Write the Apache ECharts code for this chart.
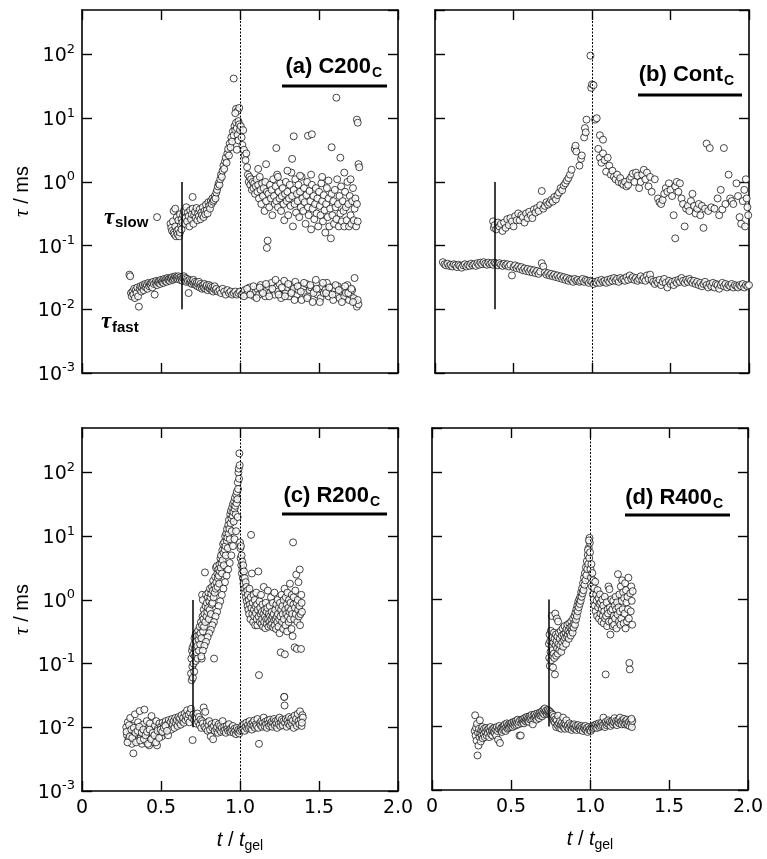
<!DOCTYPE html>
<html><head><meta charset="utf-8">
<script src="https://cdn.jsdelivr.net/npm/echarts@6/dist/echarts.min.js"></script>
<style>html,body{margin:0;padding:0;background:#fff}#c{width:767px;height:859px}</style>
</head><body><div id="c"></div>
<script>
// ---------- DATA (t / t_gel, tau in ms) ----------
const aFast = [[0.30,.035],[0.305,.033],[0.31,.018],[0.315,.016],[0.32,.019],[0.325,.017],[0.33,.021],[0.335,.015],[0.34,.02],[0.345,.018],[0.35,.022],[0.355,.016],[0.36,.011],[0.365,.021],[0.37,.023],[0.375,.019],[0.38,.022],[0.385,.024],[0.39,.02],[0.395,.023],[0.40,.025],[0.405,.022],[0.41,.024],[0.415,.021],[0.42,.026],[0.425,.023],[0.43,.025],[0.435,.024],[0.44,.026],[0.445,.022],[0.45,.027],[0.455,.025],[0.46,.017],[0.465,.026],[0.47,.028],[0.475,.024],[0.48,.027],[0.485,.026],[0.49,.028],[0.495,.025],[0.50,.029],[0.505,.027],[0.51,.028],[0.515,.026],[0.52,.03],[0.525,.028],[0.53,.029],[0.535,.027],[0.54,.031],[0.545,.029],[0.55,.03],[0.555,.028],[0.56,.031],[0.565,.03],[0.57,.032],[0.575,.029],[0.58,.031],[0.585,.03],[0.59,.033],[0.595,.031],[0.60,.032],[0.605,.03],[0.61,.033],[0.615,.031],[0.62,.029],[0.625,.032],[0.63,.03],[0.635,.028],[0.64,.031],[0.645,.033],[0.65,.029],[0.655,.031],[0.66,.027],[0.665,.03],[0.67,.028],[0.675,.018],[0.68,.029],[0.685,.026],[0.69,.028],[0.695,.025],[0.70,.027],[0.705,.029],[0.71,.025],[0.715,.027],[0.72,.024],[0.725,.026],[0.73,.023],[0.735,.025],[0.74,.027],[0.745,.022],[0.75,.025],[0.755,.023],[0.76,.021],[0.765,.024],[0.77,.022],[0.775,.025],[0.78,.021],[0.785,.023],[0.79,.024],[0.795,.02],[0.80,.022],[0.805,.024],[0.81,.021],[0.815,.023],[0.82,.02],[0.825,.022],[0.83,.019],[0.835,.021],[0.84,.023],[0.845,.02],[0.85,.021],[0.86,.019],[0.87,.02],[0.88,.018],[0.89,.021],[0.90,.019],[0.91,.017],[0.92,.02],[0.93,.018],[0.94,.019],[0.95,.017],[0.96,.018],[0.97,.019],[0.98,.017],[0.99,.018],[1.00,.019],[1.01,.017],[1.02,.018],[1.03,.02],[1.04,.017],[1.05,.019],[1.06,.022],[1.07,.018],[1.08,.02],[1.09,.016],[1.10,.019],[1.11,.021],[1.12,.017],[1.13,.024],[1.14,.019],[1.15,.021],[1.16,.016],[1.17,.02],[1.18,.023],[1.19,.018],[1.20,.026],[1.21,.02],[1.22,.017],[1.23,.022],[1.24,.019],[1.25,.025],[1.26,.015],[1.27,.021],[1.28,.028],[1.29,.018],[1.30,.022],[1.31,.016],[1.32,.024],[1.33,.019],[1.34,.021],[1.35,.027],[1.36,.017],[1.37,.02],[1.38,.023],[1.39,.014],[1.40,.021],[1.41,.018],[1.42,.025],[1.43,.016],[1.44,.02],[1.45,.022],[1.46,.013],[1.47,.019],[1.48,.029],[1.49,.017],[1.50,.021],[1.51,.015],[1.52,.023],[1.53,.018],[1.54,.02],[1.55,.026],[1.56,.016],[1.57,.019],[1.58,.022],[1.59,.014],[1.60,.02],[1.61,.017],[1.62,.023],[1.63,.015],[1.64,.019],[1.65,.021],[1.66,.016],[1.67,.018],[1.68,.024],[1.69,.014],[1.70,.017],[1.71,.02],[1.72,.015],[1.73,.013],[1.74,.011],[1.75,.012],[1.745,.014],[1.725,.031],[1.025,.016],[1.045,.021],[1.065,.017],[1.085,.023],[1.105,.015],[1.125,.022],[1.145,.018],[1.165,.025],[1.185,.016],[1.205,.021],[1.225,.029],[1.245,.017],[1.265,.022],[1.285,.016],[1.305,.025],[1.325,.018],[1.345,.014],[1.365,.023],[1.385,.019],[1.405,.026],[1.425,.015],[1.445,.024],[1.465,.018],[1.485,.021],[1.505,.013],[1.525,.026],[1.545,.018],[1.565,.022],[1.585,.017],[1.605,.024],[1.625,.02],[1.645,.013],[1.665,.023],[1.685,.018],[1.705,.021],[1.715,.013]];

const aSlow = [[0.475,.28],[0.56,.22],[0.565,.19],[0.57,.17],[0.575,.24],[0.58,.16],[0.585,.15],[0.59,.2],[0.595,.14],[0.60,.17],[0.605,.15],[0.61,.18],[0.615,.14],[0.62,.16],[0.625,.21],[0.63,.18],[0.58,.35],[0.59,.38],[0.60,.28],[0.61,.25],[0.62,.31],[0.63,.26],[0.635,.23],[0.64,.3],[0.645,.35],[0.65,.22],[0.655,.27],[0.66,.4],[0.665,.24],[0.67,.33],[0.675,.29],[0.68,.2],[0.685,.36],[0.69,.26],[0.695,.31],[0.70,.38],[0.70,.58],[0.705,.22],[0.71,.3],[0.715,.34],[0.72,.27],[0.725,.39],[0.73,.25],[0.735,.32],[0.74,.29],[0.745,.37],[0.75,.26],[0.755,.33],[0.76,.3],[0.765,.4],[0.77,.28],[0.775,.35],[0.78,.31],[0.785,.44],[0.79,.36],[0.795,.32],[0.80,.48],[0.805,.42],[0.81,.38],[0.815,.5],[0.82,.45],[0.825,.55],[0.83,.49],[0.835,.52],[0.84,.6],[0.845,.55],[0.85,.68],[0.855,.75],[0.86,.85],[0.865,.95],[0.87,.9],[0.875,1.1],[0.88,1.3],[0.885,1.2],[0.89,1.5],[0.895,1.8],[0.90,1.6],[0.905,2.1],[0.91,2.4],[0.915,2.0],[0.92,2.8],[0.925,3.3],[0.93,2.6],[0.935,4.0],[0.94,3.5],[0.945,5.0],[0.95,4.3],[0.955,6.2],[0.96,5.4],[0.965,7.5],[0.97,6.5],[0.975,8.5],[0.98,7.0],[0.985,5.5],[0.99,9.0],[0.995,8.0],[1.0,6.5],[0.96,42],[0.975,14],[0.985,13],[0.995,14.5],[0.97,12],[0.99,4.5],[0.98,3.2],[1.005,7.5],[1.01,5.0],[1.015,3.8],[1.02,6.5],[1.025,3.2],[1.03,2.6],[1.035,2.2],[1.04,2.8],[1.045,1.7],[1.05,1.3],[1.055,1.0],[1.06,1.2],[1.065,0.9],[1.07,1.1],[1.075,0.75],[1.08,1.0],[1.085,0.8],[1.09,0.95],[1.095,0.65],[1.10,0.85],[1.105,1.1],[1.11,0.7],[1.115,0.9],[1.12,0.55],[1.125,1.2],[1.13,0.75],[1.135,0.45],[1.14,0.95],[1.145,0.6],[1.15,0.8],[1.155,0.35],[1.16,1.0],[1.165,0.5],[1.17,0.7],[1.175,0.12],[1.17,0.092],[1.18,0.65],[1.185,0.4],[1.19,0.9],[1.195,0.55],[1.20,0.75],[1.205,0.3],[1.21,1.1],[1.215,0.6],[1.22,0.45],[1.225,0.85],[1.23,0.5],[1.235,1.3],[1.24,0.4],[1.245,0.7],[1.25,0.55],[1.255,0.95],[1.26,0.35],[1.265,0.6],[1.27,0.8],[1.275,0.45],[1.28,0.25],[1.285,0.65],[1.29,1.0],[1.295,0.5],[1.30,0.7],[1.305,0.3],[1.31,0.55],[1.315,0.9],[1.32,0.42],[1.325,1.4],[1.33,0.6],[1.335,0.2],[1.34,0.75],[1.345,0.45],[1.35,1.1],[1.355,0.33],[1.36,0.65],[1.365,0.5],[1.37,0.9],[1.375,0.28],[1.38,0.7],[1.385,0.4],[1.39,1.2],[1.395,0.55],[1.40,0.35],[1.405,0.8],[1.41,0.48],[1.415,0.22],[1.42,0.62],[1.425,1.0],[1.43,0.4],[1.435,0.3],[1.44,0.72],[1.445,0.5],[1.45,0.18],[1.455,0.9],[1.46,0.38],[1.465,0.6],[1.47,0.26],[1.475,0.45],[1.48,0.8],[1.485,0.32],[1.49,0.55],[1.495,0.2],[1.50,0.7],[1.505,0.42],[1.51,0.3],[1.515,0.95],[1.52,0.5],[1.525,0.24],[1.53,0.62],[1.535,0.36],[1.54,0.16],[1.545,0.45],[1.55,0.8],[1.555,0.28],[1.56,0.55],[1.565,0.2],[1.57,0.38],[1.575,0.13],[1.58,0.65],[1.585,0.3],[1.59,0.5],[1.595,0.22],[1.60,0.75],[1.605,0.4],[1.61,0.26],[1.615,1.1],[1.62,0.45],[1.625,0.2],[1.63,0.6],[1.635,0.32],[1.64,0.85],[1.645,0.24],[1.65,0.5],[1.655,0.35],[1.66,0.2],[1.665,0.7],[1.67,0.4],[1.675,0.25],[1.68,1.0],[1.685,0.45],[1.69,0.2],[1.695,0.6],[1.70,0.3],[1.705,0.22],[1.71,0.5],[1.715,0.8],[1.72,0.25],[1.725,0.38],[1.73,0.55],[1.735,0.2],[1.74,0.45],[1.745,0.24],[1.61,21],[1.74,9.5],[1.745,8.5],[1.34,5.2],[1.43,5.3],[1.455,5.6],[1.23,3.4],[1.58,3.5],[1.635,2.4],[1.33,2.3],[1.115,1.6],[1.165,1.9],[1.75,1.9],[1.755,1.7],[1.30,1.5],[1.45,1.3],[1.52,1.2],[1.56,1.05],[1.66,1.4],[1.38,1.25],[1.24,1.2],[1.70,1.1]];

const bFast = [[0.05,.055],[0.06,.051],[0.07,.049],[0.08,.052],[0.09,.048],[0.10,.05],[0.11,.047],[0.12,.051],[0.13,.049],[0.14,.046],[0.15,.05],[0.16,.048],[0.17,.045],[0.18,.049],[0.19,.051],[0.20,.047],[0.21,.05],[0.22,.048],[0.23,.052],[0.24,.049],[0.25,.051],[0.26,.048],[0.27,.053],[0.28,.05],[0.29,.054],[0.30,.051],[0.31,.055],[0.32,.052],[0.33,.05],[0.34,.054],[0.35,.051],[0.36,.053],[0.37,.05],[0.38,.054],[0.39,.052],[0.40,.049],[0.41,.053],[0.42,.05],[0.43,.048],[0.44,.052],[0.45,.049],[0.46,.051],[0.47,.047],[0.48,.05],[0.49,.034],[0.50,.046],[0.51,.049],[0.52,.044],[0.53,.047],[0.54,.043],[0.55,.046],[0.56,.041],[0.57,.044],[0.58,.04],[0.59,.043],[0.60,.039],[0.61,.042],[0.62,.038],[0.63,.041],[0.64,.037],[0.65,.04],[0.66,.036],[0.67,.039],[0.68,.053],[0.69,.047],[0.70,.038],[0.71,.035],[0.72,.037],[0.73,.034],[0.74,.036],[0.75,.033],[0.76,.035],[0.77,.032],[0.78,.034],[0.79,.031],[0.80,.033],[0.81,.03],[0.82,.032],[0.83,.029],[0.84,.031],[0.85,.028],[0.86,.03],[0.87,.029],[0.88,.027],[0.89,.03],[0.90,.028],[0.91,.029],[0.92,.027],[0.93,.028],[0.94,.03],[0.95,.027],[0.96,.029],[0.97,.028],[0.98,.026],[0.99,.028],[1.00,.027],[1.01,.025],[1.02,.027],[1.03,.026],[1.04,.028],[1.05,.026],[1.06,.029],[1.07,.027],[1.08,.028],[1.09,.026],[1.10,.029],[1.11,.027],[1.12,.03],[1.13,.028],[1.14,.031],[1.15,.028],[1.16,.03],[1.17,.027],[1.18,.031],[1.19,.029],[1.20,.03],[1.21,.028],[1.22,.032],[1.23,.029],[1.24,.034],[1.25,.03],[1.26,.032],[1.27,.029],[1.28,.031],[1.29,.028],[1.30,.03],[1.31,.033],[1.32,.029],[1.33,.031],[1.34,.028],[1.35,.034],[1.36,.03],[1.37,.035],[1.38,.029],[1.39,.027],[1.40,.025],[1.41,.028],[1.42,.026],[1.43,.029],[1.44,.024],[1.45,.027],[1.46,.03],[1.47,.026],[1.48,.022],[1.49,.028],[1.50,.025],[1.51,.027],[1.52,.024],[1.53,.028],[1.54,.026],[1.55,.029],[1.56,.027],[1.57,.031],[1.58,.028],[1.59,.026],[1.60,.029],[1.61,.027],[1.62,.03],[1.63,.028],[1.64,.026],[1.65,.028],[1.66,.025],[1.67,.027],[1.68,.024],[1.69,.026],[1.70,.023],[1.71,.025],[1.72,.027],[1.73,.024],[1.74,.022],[1.75,.025],[1.76,.023],[1.77,.026],[1.78,.022],[1.79,.025],[1.80,.024],[1.81,.021],[1.82,.024],[1.83,.026],[1.84,.023],[1.85,.025],[1.86,.022],[1.87,.024],[1.88,.023],[1.89,.025],[1.90,.022],[1.91,.024],[1.92,.023],[1.93,.022],[1.94,.024],[1.95,.023],[1.96,.025],[1.97,.022],[1.98,.024],[1.99,.023],[2.00,.024]];

const bSlow = [[0.37,.24],[0.375,.19],[0.38,.21],[0.39,.18],[0.40,.23],[0.41,.2],[0.42,.22],[0.43,.17],[0.44,.23],[0.45,.19],[0.46,.26],[0.47,.21],[0.48,.27],[0.49,.24],[0.50,.2],[0.51,.29],[0.52,.25],[0.53,.32],[0.54,.25],[0.55,.3],[0.56,.28],[0.57,.23],[0.58,.32],[0.59,.27],[0.60,.34],[0.61,.3],[0.62,.27],[0.63,.37],[0.64,.33],[0.65,.39],[0.68,.72],[0.66,.35],[0.67,.43],[0.69,.38],[0.70,.42],[0.71,.48],[0.72,.44],[0.73,.47],[0.74,.52],[0.75,.49],[0.76,.58],[0.77,.53],[0.78,.62],[0.79,.68],[0.80,.8],[0.81,.74],[0.82,.88],[0.83,.95],[0.84,1.05],[0.85,1.15],[0.86,1.3],[0.87,1.55],[0.89,3.3],[0.895,3.7],[0.90,3.0],[0.92,1.8],[0.93,2.3],[0.935,2.6],[0.95,5.0],[0.955,7.0],[0.96,6.0],[0.965,9.5],[0.99,96],[0.995,30],[1.0,34],[1.01,33],[1.02,9.5],[1.03,10],[1.05,5.4],[1.07,4.6],[1.04,3.3],[1.05,2.4],[1.06,2.0],[1.07,2.8],[1.08,2.2],[1.09,1.45],[1.10,2.4],[1.11,1.8],[1.12,1.3],[1.13,1.5],[1.14,1.2],[1.15,1.1],[1.16,1.3],[1.17,1.0],[1.18,1.15],[1.19,0.95],[1.20,0.9],[1.21,1.0],[1.22,0.85],[1.23,0.9],[1.24,1.1],[1.25,1.2],[1.26,1.35],[1.27,1.0],[1.28,1.4],[1.29,1.25],[1.30,0.8],[1.31,1.0],[1.32,1.3],[1.33,1.55],[1.34,1.1],[1.35,1.4],[1.36,0.85],[1.37,1.2],[1.38,0.7],[1.40,1.1],[1.42,0.55],[1.43,0.48],[1.44,0.45],[1.45,0.52],[1.46,0.65],[1.47,0.8],[1.48,0.7],[1.49,0.95],[1.50,0.75],[1.51,0.6],[1.52,0.3],[1.53,0.85],[1.54,1.0],[1.53,0.13],[1.55,0.7],[1.56,0.95],[1.57,0.55],[1.58,0.45],[1.59,0.2],[1.60,0.38],[1.61,0.42],[1.62,0.35],[1.63,0.5],[1.64,0.65],[1.65,0.42],[1.66,0.32],[1.67,0.38],[1.68,0.45],[1.69,0.3],[1.70,0.42],[1.71,0.19],[1.72,0.38],[1.73,4.0],[1.75,3.4],[1.74,0.35],[1.76,0.4],[1.78,0.38],[1.80,0.55],[1.81,0.3],[1.82,0.75],[1.83,0.37],[1.84,3.4],[1.85,0.45],[1.87,1.3],[1.88,0.55],[1.89,0.5],[1.90,0.45],[1.92,0.95],[1.93,0.6],[1.94,0.28],[1.95,0.22],[1.96,0.5],[1.97,0.75],[1.98,1.1],[1.99,0.4],[1.995,0.3],[1.985,0.55],[1.975,0.2]];

const cFast = [[0.280,.010],[0.285,.0075],[0.290,.012],[0.295,.0065],[0.300,.009],[0.305,.014],[0.310,.0078],[0.315,.0055],[0.320,.0105],[0.325,.0039],[0.330,.0085],[0.335,.016],[0.340,.007],[0.345,.0095],[0.350,.0062],[0.355,.012],[0.360,.0082],[0.365,.018],[0.370,.0068],[0.375,.0098],[0.380,.0055],[0.385,.011],[0.390,.0078],[0.395,.019],[0.400,.0088],[0.405,.006],[0.410,.0125],[0.415,.0072],[0.420,.0095],[0.425,.0052],[0.430,.0115],[0.435,.008],[0.440,.015],[0.445,.0068],[0.450,.0092],[0.455,.0058],[0.460,.0105],[0.465,.0082],[0.470,.0125],[0.475,.0052],[0.480,.0095],[0.485,.0078],[0.490,.0115],[0.495,.0088],[0.500,.0102],[0.505,.0072],[0.510,.0118],[0.515,.0092],[0.520,.0108],[0.525,.0082],[0.530,.0125],[0.535,.0098],[0.540,.0112],[0.545,.0075],[0.550,.013],[0.555,.0105],[0.560,.012],[0.565,.0092],[0.570,.0135],[0.575,.011],[0.580,.0125],[0.585,.0098],[0.590,.014],[0.595,.0115],[0.600,.013],[0.605,.0105],[0.610,.0145],[0.615,.012],[0.620,.0138],[0.625,.011],[0.630,.0155],[0.635,.0125],[0.640,.014],[0.645,.0118],[0.650,.0165],[0.655,.013],[0.660,.015],[0.665,.0185],[0.670,.0135],[0.675,.0158],[0.680,.012],[0.685,.017],[0.690,.0195],[0.695,.0142],[0.700,.0063],[0.705,.016],[0.710,.013],[0.715,.0148],[0.720,.0115],[0.725,.0138],[0.730,.0165],[0.735,.0122],[0.740,.0145],[0.745,.0108],[0.750,.0132],[0.755,.0098],[0.760,.0125],[0.765,.0115],[0.770,.0205],[0.775,.0102],[0.780,.0175],[0.785,.0095],[0.790,.0118],[0.795,.0088],[0.800,.0108],[0.805,.0125],[0.810,.0092],[0.815,.0072],[0.820,.0112],[0.825,.0098],[0.830,.0065],[0.835,.0105],[0.840,.0088],[0.845,.0118],[0.850,.0095],[0.855,.0102],[0.860,.0082],[0.865,.0112],[0.870,.0092],[0.875,.0105],[0.880,.0085],[0.885,.0098],[0.890,.0125],[0.895,.0088],[0.900,.0102],[0.905,.0092],[0.910,.0082],[0.915,.0105],[0.920,.0095],[0.925,.0088],[0.930,.0112],[0.935,.0092],[0.940,.0085],[0.945,.0098],[0.950,.009],[0.955,.0105],[0.960,.0082],[0.965,.0095],[0.970,.0088],[0.975,.0078],[0.980,.0098],[0.985,.0085],[0.990,.0092],[0.995,.008],[1.000,.0088],[1.005,.0098],[1.010,.0092],[1.015,.0108],[1.020,.0095],[1.025,.0112],[1.030,.0088],[1.035,.0102],[1.040,.0118],[1.045,.0095],[1.050,.0108],[1.055,.0098],[1.060,.0125],[1.065,.0102],[1.070,.0112],[1.075,.0092],[1.080,.0118],[1.085,.0105],[1.090,.0128],[1.095,.0098],[1.100,.0112],[1.105,.0105],[1.110,.0135],[1.115,.0098],[1.120,.0055],[1.125,.0115],[1.130,.0108],[1.135,.0125],[1.140,.0102],[1.145,.0118],[1.150,.0142],[1.155,.0105],[1.160,.0122],[1.165,.0112],[1.170,.0098],[1.175,.0128],[1.180,.0115],[1.185,.0105],[1.190,.0132],[1.195,.0112],[1.200,.0122],[1.205,.0102],[1.210,.0118],[1.215,.0135],[1.220,.0108],[1.225,.0125],[1.230,.0115],[1.235,.0098],[1.240,.0128],[1.245,.0112],[1.250,.0142],[1.255,.0105],[1.260,.012],[1.265,.0132],[1.270,.0108],[1.275,.0125],[1.280,.030],[1.282,.022],[1.285,.0118],[1.290,.0135],[1.295,.0102],[1.300,.0128],[1.305,.0115],[1.310,.0145],[1.315,.0108],[1.320,.0122],[1.325,.0138],[1.330,.0112],[1.335,.0128],[1.340,.0098],[1.345,.0152],[1.350,.0118],[1.355,.0135],[1.360,.0105],[1.365,.0162],[1.370,.0125],[1.375,.0112],[1.380,.0178],[1.385,.0132],[1.390,.0105],[1.395,.0155],[1.398,.0142],[1.392,.0118],[0.282,.0085],[0.288,.0058],[0.298,.0108],[0.302,.0072],[0.312,.0092],[0.318,.0068],[0.328,.0098],[0.338,.0082],[0.342,.0058],[0.352,.0088],[0.362,.0102],[0.368,.0062],[0.378,.0082],[0.388,.0092],[0.392,.0065],[0.402,.0075],[0.412,.0085],[0.418,.0055],[0.428,.0092],[0.438,.0065],[0.448,.0082],[0.458,.0075],[0.468,.0058],[0.478,.0088],[0.488,.0068],[0.498,.0092],[0.508,.0085],[0.518,.0098],[0.528,.0105],[0.538,.0088]];

const cSlow = [[0.690,.07],[0.692,.12],[0.694,.055],[0.696,.16],[0.698,.09],[0.700,.18],[0.702,.06],[0.704,.14],[0.706,.1],[0.708,.2],[0.710,.075],[0.712,.25],[0.714,.13],[0.716,.17],[0.718,.28],[0.720,.11],[0.722,.22],[0.724,.3],[0.726,.15],[0.728,.27],[0.730,.19],[0.732,.12],[0.735,.33],[0.738,.24],[0.740,.16],[0.742,.28],[0.745,.38],[0.748,.2],[0.750,.3],[0.753,.45],[0.756,.25],[0.758,.12],[0.760,.4],[0.760,1.2],[0.765,1.0],[0.763,.55],[0.766,.32],[0.768,.5],[0.770,.7],[0.772,.38],[0.775,.6],[0.778,2.7],[0.780,.45],[0.782,.8],[0.785,1.2],[0.788,.55],[0.790,.9],[0.793,.65],[0.796,1.1],[0.798,.75],[0.800,1.3],[0.803,.5],[0.806,.95],[0.808,.7],[0.810,1.5],[0.813,1.1],[0.816,.6],[0.818,1.25],[0.820,.85],[0.823,1.6],[0.826,.9],[0.828,1.4],[0.830,2.0],[0.833,1.1],[0.836,.12],[0.838,1.7],[0.840,1.3],[0.843,2.3],[0.846,1.5],[0.848,3.2],[0.850,1.9],[0.853,3.4],[0.856,2.6],[0.858,1.6],[0.860,2.2],[0.863,3.0],[0.866,2.4],[0.868,1.8],[0.870,3.6],[0.873,2.8],[0.876,4.5],[0.878,3.2],[0.880,5.0],[0.883,3.8],[0.886,2.6],[0.888,6.0],[0.890,4.2],[0.893,7.5],[0.896,5.5],[0.898,3.5],[0.900,8.0],[0.903,6.2],[0.906,10],[0.908,7.0],[0.910,5.0],[0.913,11],[0.916,8.5],[0.918,13],[0.920,9.5],[0.923,6.5],[0.926,15],[0.928,11],[0.930,18],[0.933,13],[0.936,9.0],[0.938,22],[0.940,16],[0.943,25],[0.946,19],[0.948,12],[0.950,28],[0.953,21],[0.956,32],[0.958,24],[0.960,17],[0.963,35],[0.966,27],[0.968,40],[0.970,30],[0.973,22],[0.976,45],[0.978,33],[0.980,50],[0.983,38],[0.986,70],[0.988,55],[0.990,100],[0.992,115],[0.994,80],[0.996,200],[0.998,130],[0.985,20],[0.975,12],[0.965,9],[0.955,7],[0.945,5],[0.935,3.8],[0.925,3.0],[0.915,2.4],[0.905,1.9],[0.895,1.5],[0.885,1.2],[0.875,0.95],[0.865,0.8],[0.855,0.65],[0.845,0.55],[0.835,0.45],[0.825,0.4],[0.815,0.34],[0.805,0.3],[0.795,0.26],[0.785,0.22],[0.775,0.19],[0.765,0.16],[0.755,0.13],[1.000,8.0],[1.002,6.5],[1.004,4.5],[1.006,7.0],[1.008,3.5],[1.010,5.0],[1.012,2.6],[1.014,4.0],[1.016,3.0],[1.018,2.2],[1.020,3.5],[1.022,1.8],[1.025,2.8],[1.028,1.5],[1.030,2.2],[1.033,1.3],[1.036,1.9],[1.038,1.1],[1.040,1.6],[1.043,0.95],[1.046,1.4],[1.048,0.8],[1.050,1.2],[1.053,0.7],[1.056,1.0],[1.058,0.6],[1.060,1.5],[1.063,0.85],[1.066,0.5],[1.068,1.1],[1.070,10.5],[1.072,0.75],[1.075,2.6],[1.078,0.6],[1.080,0.9],[1.083,0.45],[1.086,1.2],[1.088,0.7],[1.090,0.55],[1.093,1.0],[1.096,0.4],[1.098,0.8],[1.100,0.62],[1.103,1.3],[1.106,0.5],[1.108,0.85],[1.110,0.4],[1.113,0.7],[1.116,2.8],[1.118,0.55],[1.120,0.066],[1.123,0.95],[1.126,0.45],[1.128,0.75],[1.130,0.6],[1.133,1.2],[1.136,0.42],[1.138,0.65],[1.140,0.5],[1.143,0.85],[1.146,0.38],[1.148,0.6],[1.150,1.6],[1.153,0.45],[1.156,0.7],[1.158,0.55],[1.160,0.36],[1.163,0.9],[1.166,0.5],[1.168,0.65],[1.170,0.42],[1.173,0.75],[1.176,1.4],[1.178,0.5],[1.180,0.38],[1.183,0.6],[1.186,0.45],[1.188,0.8],[1.190,0.55],[1.193,0.4],[1.196,1.1],[1.198,0.5],[1.200,0.65],[1.203,0.42],[1.206,0.55],[1.208,0.9],[1.210,0.37],[1.213,0.6],[1.216,0.48],[1.218,1.3],[1.220,0.4],[1.223,0.7],[1.226,0.5],[1.228,0.35],[1.230,0.85],[1.233,0.55],[1.236,0.45],[1.238,1.0],[1.240,0.6],[1.243,0.38],[1.246,0.75],[1.248,0.5],[1.250,0.3],[1.253,0.9],[1.256,0.55],[1.258,0.15],[1.260,0.7],[1.263,1.2],[1.266,0.45],[1.268,0.8],[1.270,0.6],[1.273,0.35],[1.276,1.0],[1.278,0.5],[1.280,0.03],[1.282,1.5],[1.284,0.14],[1.286,0.7],[1.288,0.4],[1.290,1.1],[1.293,0.6],[1.296,0.85],[1.298,0.32],[1.300,1.3],[1.303,0.55],[1.306,0.75],[1.308,0.45],[1.310,1.0],[1.313,0.65],[1.316,1.8],[1.318,0.5],[1.320,0.9],[1.323,0.7],[1.326,0.35],[1.328,1.2],[1.330,0.6],[1.333,0.27],[1.336,8.0],[1.338,0.85],[1.340,1.1],[1.343,0.5],[1.346,0.18],[1.348,0.75],[1.350,1.4],[1.353,0.6],[1.356,2.5],[1.358,0.9],[1.360,0.17],[1.363,0.45],[1.366,1.0],[1.368,0.7],[1.370,1.9],[1.373,0.55],[1.376,0.8],[1.378,3.0],[1.380,0.4],[1.383,0.6],[1.386,0.17],[1.388,1.2],[1.390,0.9],[1.392,0.65]];

const dFast = [[0.270,.0085],[0.273,.015],[0.276,.0072],[0.279,.0095],[0.282,.006],[0.285,.011],[0.288,.0035],[0.291,.008],[0.294,.005],[0.297,.0092],[0.300,.0068],[0.303,.0125],[0.306,.0078],[0.309,.0058],[0.312,.0088],[0.315,.0072],[0.318,.0098],[0.321,.0065],[0.324,.0085],[0.327,.0075],[0.330,.0092],[0.334,.0068],[0.338,.0082],[0.342,.0095],[0.346,.0072],[0.350,.0088],[0.354,.0078],[0.358,.0092],[0.362,.0068],[0.366,.0085],[0.370,.0098],[0.374,.0075],[0.378,.0088],[0.382,.0072],[0.386,.0092],[0.390,.0082],[0.394,.0095],[0.398,.0078],[0.402,.009],[0.406,.0072],[0.410,.0098],[0.414,.0085],[0.418,.0062],[0.422,.0092],[0.426,.0102],[0.430,.0055],[0.434,.0088],[0.438,.0095],[0.442,.0082],[0.446,.0098],[0.450,.0088],[0.454,.0102],[0.458,.0092],[0.462,.0108],[0.466,.0085],[0.470,.0098],[0.474,.0112],[0.478,.0092],[0.482,.0105],[0.486,.0095],[0.490,.011],[0.494,.0098],[0.498,.0108],[0.502,.0102],[0.506,.0115],[0.510,.0098],[0.514,.0108],[0.518,.0118],[0.522,.0102],[0.526,.0112],[0.530,.0122],[0.534,.0105],[0.538,.0115],[0.542,.0128],[0.546,.0108],[0.550,.0118],[0.554,.0072],[0.558,.0125],[0.562,.0072],[0.566,.0112],[0.570,.0128],[0.574,.0118],[0.578,.0132],[0.582,.0112],[0.586,.0125],[0.590,.0138],[0.594,.012],[0.598,.013],[0.602,.0142],[0.606,.0122],[0.610,.0135],[0.614,.0118],[0.618,.0145],[0.622,.0128],[0.626,.0138],[0.630,.0152],[0.634,.0125],[0.638,.0108],[0.642,.0148],[0.646,.0132],[0.650,.0155],[0.654,.0138],[0.658,.0145],[0.662,.0128],[0.666,.016],[0.670,.0142],[0.674,.0152],[0.678,.0135],[0.682,.0165],[0.686,.0148],[0.690,.0158],[0.694,.0172],[0.698,.0145],[0.702,.0162],[0.706,.0185],[0.710,.0155],[0.714,.0192],[0.718,.0168],[0.722,.0178],[0.726,.0158],[0.730,.0172],[0.734,.0182],[0.738,.0162],[0.742,.0175],[0.746,.0155],[0.750,.0168],[0.754,.0148],[0.758,.016],[0.762,.0135],[0.766,.0152],[0.770,.0122],[0.774,.0142],[0.778,.0115],[0.782,.013],[0.786,.0098],[0.790,.0125],[0.794,.0105],[0.798,.0148],[0.802,.0112],[0.806,.0095],[0.810,.0122],[0.814,.0105],[0.818,.0092],[0.822,.0115],[0.826,.0102],[0.830,.0138],[0.834,.0098],[0.838,.0112],[0.842,.0092],[0.846,.0108],[0.850,.0125],[0.855,.0098],[0.860,.0105],[0.865,.0092],[0.870,.0112],[0.875,.0098],[0.880,.0105],[0.885,.0088],[0.890,.0102],[0.895,.0095],[0.900,.0108],[0.905,.0092],[0.910,.0102],[0.915,.0088],[0.920,.0098],[0.925,.0105],[0.930,.0092],[0.935,.0098],[0.940,.0088],[0.945,.0102],[0.950,.0095],[0.955,.0085],[0.960,.0098],[0.965,.0092],[0.970,.0102],[0.975,.0088],[0.980,.0095],[0.985,.0082],[0.990,.0098],[0.995,.0088],[1.000,.0092],[1.005,.0085],[1.010,.0098],[1.015,.0092],[1.020,.0102],[1.025,.0095],[1.030,.0105],[1.035,.0098],[1.040,.0108],[1.045,.0095],[1.050,.0105],[1.055,.0112],[1.060,.0098],[1.065,.0108],[1.070,.0102],[1.075,.0115],[1.080,.0105],[1.085,.0138],[1.090,.0108],[1.095,.0098],[1.100,.0118],[1.105,.0105],[1.110,.0112],[1.115,.0125],[1.120,.0108],[1.125,.0118],[1.130,.0102],[1.135,.0115],[1.140,.0122],[1.145,.0108],[1.150,.0118],[1.155,.0135],[1.160,.0112],[1.165,.0122],[1.170,.0105],[1.175,.0118],[1.180,.0128],[1.185,.0112],[1.190,.0138],[1.195,.0118],[1.200,.0108],[1.205,.0125],[1.210,.0115],[1.215,.0132],[1.220,.0108],[1.225,.0122],[1.230,.0112],[1.235,.0128],[1.240,.0105],[1.245,.0118],[1.250,.0102],[1.255,.0125],[1.260,.0112],[1.265,.0098],[1.268,.0122],[1.262,.0132]];

const dSlow = [[0.740,.2],[0.742,.12],[0.744,.28],[0.746,.09],[0.748,.22],[0.750,.15],[0.752,.32],[0.754,.11],[0.756,.18],[0.758,.55],[0.760,.13],[0.762,.25],[0.764,.16],[0.766,.085],[0.768,.21],[0.770,.14],[0.772,.3],[0.774,.12],[0.776,.24],[0.778,.066],[0.780,.6],[0.782,.19],[0.784,.28],[0.786,.13],[0.788,.22],[0.790,.5],[0.792,.17],[0.794,.26],[0.796,.14],[0.798,.45],[0.800,.2],[0.803,.3],[0.806,.16],[0.809,.24],[0.812,.19],[0.815,.32],[0.818,.15],[0.821,.27],[0.824,.21],[0.827,.35],[0.830,.18],[0.833,.28],[0.836,.23],[0.839,.38],[0.842,.25],[0.845,.3],[0.848,.2],[0.851,.34],[0.854,.26],[0.857,.4],[0.860,.28],[0.863,.32],[0.866,.24],[0.869,.42],[0.872,.3],[0.875,.36],[0.878,.27],[0.881,.45],[0.884,.33],[0.887,.38],[0.890,.3],[0.893,.5],[0.896,.36],[0.899,.42],[0.902,.55],[0.905,.4],[0.908,.62],[0.911,.48],[0.914,.7],[0.917,.55],[0.920,.8],[0.923,.65],[0.926,.92],[0.929,.75],[0.932,1.0],[0.935,.85],[0.938,1.1],[0.941,.95],[0.944,1.3],[0.947,1.1],[0.950,1.5],[0.953,1.25],[0.956,1.8],[0.959,1.4],[0.962,2.2],[0.965,1.7],[0.968,2.6],[0.971,2.0],[0.974,3.2],[0.977,2.4],[0.980,4.0],[0.983,3.0],[0.986,5.0],[0.989,3.6],[0.992,6.5],[0.995,4.5],[0.997,9.3],[0.999,7.8],[0.993,8.5],[0.987,6.0],[1.000,5.5],[1.003,3.0],[1.006,2.2],[1.009,3.6],[1.012,1.6],[1.015,2.6],[1.018,1.2],[1.021,2.0],[1.024,1.0],[1.027,1.5],[1.030,0.8],[1.033,1.9],[1.036,0.65],[1.039,1.2],[1.042,0.95],[1.045,0.55],[1.048,1.4],[1.051,0.75],[1.054,1.05],[1.057,0.5],[1.060,0.85],[1.063,1.2],[1.066,0.6],[1.069,0.9],[1.072,0.45],[1.075,0.7],[1.078,1.0],[1.081,0.55],[1.084,0.8],[1.087,0.42],[1.090,0.65],[1.093,1.1],[1.096,0.5],[1.099,.066],[1.102,.55],[1.105,.9],[1.108,.38],[1.111,.7],[1.114,.6],[1.117,1.6],[1.120,.45],[1.123,1.45],[1.126,.75],[1.129,.28],[1.132,.65],[1.135,1.0],[1.138,.45],[1.141,.7],[1.144,.38],[1.147,.95],[1.150,.55],[1.153,.4],[1.156,.8],[1.159,.5],[1.162,1.1],[1.165,.7],[1.168,.35],[1.171,.9],[1.174,.58],[1.177,2.5],[1.180,.75],[1.183,.45],[1.186,1.2],[1.189,.65],[1.192,.4],[1.195,1.6],[1.198,.5],[1.201,.95],[1.204,2.0],[1.207,.7],[1.210,1.3],[1.213,.42],[1.216,1.05],[1.219,.6],[1.222,1.8],[1.225,.35],[1.228,1.4],[1.231,.9],[1.234,.45],[1.237,1.1],[1.240,.7],[1.243,2.2],[1.246,.5],[1.249,.1],[1.252,.079],[1.255,1.25],[1.258,.65],[1.261,1.6],[1.264,.95],[1.267,.4],[1.270,1.35]];

const panelNames = ['(a) C200', '(b) Cont', '(c) R200', '(d) R400'];
const panelSub = ['C', 'C', 'C', 'C'];
const xTickLabels = ['0', '0.5', '1.0', '1.5', '2.0'];
const gelTime = 1.0;
const onsetTimes = [0.63, 0.38, 0.70, 0.74];
const onsetRange = [0.01, 1];
const xRange = [0, 2];
const yRange = [0.001, 500];

// ---------- LAYOUT ----------
const FONT = '"Liberation Sans", Arial, Helvetica, sans-serif';
const TICKFONT = '"DejaVu Sans", "Liberation Sans", sans-serif';
const grids = [
  {left: 82, top: 10, width: 316, height: 363},
  {left: 435, top: 10, width: 314, height: 363},
  {left: 82, top: 428, width: 316, height: 363},
  {left: 432, top: 428, width: 316, height: 362}
];
const titlePos = [ // right edge of main text, centre y, bar x0,x1,y
  {x: 371, y: 67, bx0: 282, bx1: 387, by: 86},
  {x: 723, y: 75, bx0: 638, bx1: 742, by: 95},
  {x: 369, y: 496, bx0: 282, bx1: 387, by: 514},
  {x: 712, y: 498, bx0: 625, bx1: 730, by: 515}
];
const seriesData = [[aSlow, aFast], [bSlow, bFast], [cSlow, cFast], [dSlow, dFast]];

const axisLine = {show: true, onZero: false, lineStyle: {color: '#000', width: 1.6}};
const axisTick = {show: true, inside: true, length: 10, lineStyle: {color: '#000', width: 1.4}};

const xAxes = [], yAxes = [], series = [], graphics = [];
for (let i = 0; i < 4; i++) {
  const bottomRow = i >= 2, leftCol = (i % 2 === 0);
  ['bottom', 'top'].forEach(pos => {
    xAxes.push({
      type: 'value', gridIndex: i, position: pos, min: xRange[0], max: xRange[1], interval: 0.5,
      axisLine, axisTick, splitLine: {show: false},
      axisLabel: {show: pos === 'bottom' && bottomRow, color: '#000', fontSize: 19, fontFamily: TICKFONT, margin: 8,
        formatter: v => xTickLabels[Math.round(v / 0.5)]},
      name: (pos === 'bottom' && bottomRow) ? '{i|t}{n| / }{i|t}{s|gel}' : '',
      nameLocation: 'middle', nameGap: 39,
      nameTextStyle: {color: '#000', fontSize: 20, fontFamily: FONT, rich: {
        i: {fontSize: 20, fontStyle: 'italic', fontFamily: FONT, color: '#000', lineHeight: 22, verticalAlign: 'top'},
        n: {fontSize: 20, fontFamily: FONT, color: '#000', lineHeight: 22, verticalAlign: 'top'},
        s: {fontSize: 14, fontFamily: FONT, color: '#000', lineHeight: 14, padding: [9, 0, 0, 0], verticalAlign: 'top'}
      }}
    });
  });
  ['left', 'right'].forEach(pos => {
    yAxes.push({
      type: 'log', logBase: 10, gridIndex: i, position: pos, min: yRange[0], max: yRange[1],
      axisLine, axisTick, splitLine: {show: false}, minorTick: {show: false},
      axisLabel: {show: pos === 'left' && leftCol, showMaxLabel: false, margin: 7, fontSize: 19, fontFamily: TICKFONT, color: '#000',
        formatter: v => {
          const l = Math.log10(v), e = Math.round(l);
          if (Math.abs(l - e) > 1e-6 || e > 2) return '';
          return '{b|10}{s|' + e + '}';
        },
        rich: {
          b: {fontSize: 19, fontFamily: TICKFONT, color: '#000', lineHeight: 23, verticalAlign: 'bottom'},
          s: {fontSize: 13, fontFamily: TICKFONT, color: '#000', lineHeight: 13, verticalAlign: 'top'}
        }},
      name: (pos === 'left' && leftCol) ? '{t|τ}{n| / ms}' : '',
      nameLocation: 'middle', nameRotate: 90, nameGap: 49,
      nameTextStyle: {color: '#000', fontSize: 20, fontFamily: FONT, rich: {
        t: {fontSize: 21, fontStyle: 'italic', fontFamily: '"Liberation Serif", serif', color: '#000'},
        n: {fontSize: 20, fontFamily: FONT, color: '#000'}
      }}
    });
  });
  const xi = i * 2, yi = i * 2;
  const sym = {symbol: 'circle', symbolSize: 7, itemStyle: {color: '#fff', borderColor: '#000', borderWidth: 0.9}};
  series.push(Object.assign({type: 'scatter', xAxisIndex: xi, yAxisIndex: yi, data: seriesData[i][1], z: 2}, sym));
  series.push(Object.assign({type: 'scatter', xAxisIndex: xi, yAxisIndex: yi, data: seriesData[i][0], z: 3,
    markLine: {silent: true, symbol: ['none', 'none'], animation: false, label: {show: false},
      data: [
        [{coord: [gelTime, yRange[0]], lineStyle: {type: [2, 1.5], width: 1, color: '#000'}},
         {coord: [gelTime, yRange[1]], lineStyle: {type: [2, 1.5], width: 1, color: '#000'}}],
        [{coord: [onsetTimes[i], onsetRange[0]], lineStyle: {type: 'solid', width: 1.5, color: '#000'}},
         {coord: [onsetTimes[i], onsetRange[1]], lineStyle: {type: 'solid', width: 1.5, color: '#000'}}]
      ]}}, sym));

  const tp = titlePos[i];
  graphics.push({type: 'text', x: tp.x, y: tp.y, style: {text: panelNames[i], font: 'bold 22px ' + FONT, fill: '#000', align: 'right', verticalAlign: 'middle'}});
  graphics.push({type: 'text', x: tp.x + 1, y: tp.y + 6, style: {text: panelSub[i], font: 'bold 14px ' + FONT, fill: '#000', align: 'left', verticalAlign: 'middle'}});
  graphics.push({type: 'line', shape: {x1: tp.bx0, y1: tp.by, x2: tp.bx1, y2: tp.by}, style: {stroke: '#000', lineWidth: 3}});
}
// tau labels in panel (a)
graphics.push({type: 'text', x: 104, y: 218, style: {text: 'τ', font: 'italic bold 23px "Liberation Serif", serif', fill: '#000', align: 'left', verticalAlign: 'middle'}});
graphics.push({type: 'text', x: 115, y: 223, style: {text: 'slow', font: 'bold 15px ' + FONT, fill: '#000', align: 'left', verticalAlign: 'middle'}});
graphics.push({type: 'text', x: 101, y: 322, style: {text: 'τ', font: 'italic bold 23px "Liberation Serif", serif', fill: '#000', align: 'left', verticalAlign: 'middle'}});
graphics.push({type: 'text', x: 112, y: 328, style: {text: 'fast', font: 'bold 15px ' + FONT, fill: '#000', align: 'left', verticalAlign: 'middle'}});

const chart = echarts.init(document.getElementById('c'), null, {renderer: 'canvas'});
chart.setOption({
  animation: false,
  backgroundColor: '#fff',
  grid: grids.map(g => Object.assign({containLabel: false, outerBoundsMode: 'none'}, g)),
  xAxis: xAxes,
  yAxis: yAxes,
  series: series,
  graphic: graphics
});
</script>
</body></html>
